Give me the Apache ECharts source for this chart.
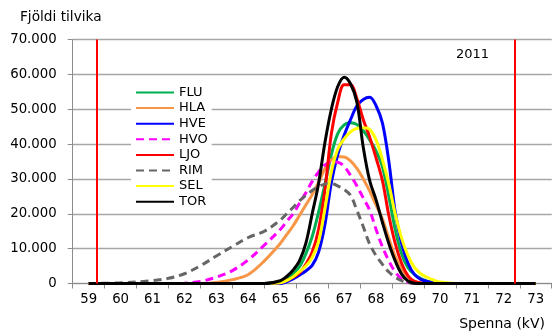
<!DOCTYPE html>
<html>
<head>
<meta charset="utf-8">
<script src="https://cdn.jsdelivr.net/npm/echarts@6/dist/echarts.min.js"></script>
<style>
  html, body { margin: 0; padding: 0; background: #fff; }
  #chart { width: 556px; height: 333px; }
</style>
</head>
<body>
<div id="chart"></div>
<script>
// Voltage (kV) sample points shared by all stations
const voltage = [59, 60, 61, 61.5, 62, 62.5, 63, 63.5, 64, 64.5, 65, 65.2, 65.4, 65.6, 65.8, 66, 66.2, 66.4, 66.6, 66.8, 67, 67.2, 67.4, 67.6, 67.8, 68, 68.2, 68.4, 68.6, 68.8, 69, 69.2, 69.4, 69.6, 69.8, 70, 70.5, 71, 72, 73];

// Number of occurrences per voltage level, one array per station
const FLU = [0, 0, 0, 0, 0, 0, 0, 0, 0, 0, 500, 1500, 2800, 4800, 8500, 13500, 20500, 28500, 37000, 43000, 45500, 46100, 45600, 43800, 41200, 38000, 33500, 25000, 15500, 8500, 4500, 2600, 1400, 700, 200, 0, 0, 0, 0, 0];
const HLA = [0, 0, 0, 0, 0, 0, 300, 1100, 2600, 6500, 11500, 14000, 16500, 19500, 22500, 25500, 29000, 33000, 35500, 36400, 36300, 35200, 33000, 30000, 26500, 22500, 18500, 13000, 7800, 4200, 1800, 600, 200, 0, 0, 0, 0, 0, 0, 0];
const HVE = [0, 0, 0, 0, 0, 0, 0, 0, 0, 0, 0, 500, 1300, 2400, 3600, 5200, 9000, 17000, 29000, 37000, 42500, 47000, 51000, 52800, 53400, 51000, 46000, 35000, 20500, 11500, 5800, 2600, 1200, 600, 200, 0, 0, 0, 0, 0];
const HVO = [0, 0, 0, 0, 100, 600, 1800, 3700, 6800, 11000, 15500, 17800, 20000, 23000, 26000, 29300, 32000, 34000, 34900, 34800, 33600, 31000, 28000, 24500, 21000, 15500, 10500, 6500, 3300, 1300, 400, 0, 0, 0, 0, 0, 0, 0, 0, 0];
const LJO = [0, 0, 0, 0, 0, 0, 0, 0, 0, 0, 300, 900, 1800, 3000, 5500, 9000, 15500, 27000, 43000, 52000, 57000, 57000, 53000, 47000, 42000, 36000, 29500, 19500, 11500, 5800, 2200, 600, 100, 0, 0, 0, 0, 0, 0, 0];
const RIM = [0, 200, 800, 1500, 2800, 5100, 7900, 10600, 13200, 15000, 18200, 20000, 21800, 23700, 25300, 26700, 27800, 28500, 28700, 28000, 27000, 25300, 21000, 16300, 11300, 8000, 5500, 3300, 1800, 800, 300, 0, 0, 0, 0, 0, 0, 0, 0, 0];
const SEL = [0, 0, 0, 0, 0, 0, 0, 0, 0, 0, 200, 800, 1900, 3400, 5000, 7500, 12000, 21500, 32000, 38500, 41500, 43500, 44500, 44700, 44200, 41200, 35500, 28500, 20000, 13000, 8000, 4600, 2800, 1800, 1000, 400, 0, 0, 0, 0];
const TOR = [0, 0, 0, 0, 0, 0, 0, 0, 0, 0, 800, 2000, 3800, 6500, 11500, 20000, 28700, 40500, 50000, 56500, 59200, 57300, 52000, 39000, 29500, 24000, 17500, 11500, 6500, 2700, 700, 100, 0, 0, 0, 0, 0, 0, 0, 0];

// Voltage limits shown as vertical lines
const limits = [59.26, 72.33];

// Axis ticks and labels
const xLabels = [59, 60, 61, 62, 63, 64, 65, 66, 67, 68, 69, 70, 71, 72, 73];
const xTickBounds = [58.5, 59.5, 60.5, 61.5, 62.5, 63.5, 64.5, 65.5, 66.5, 67.5, 68.5, 69.5, 70.5, 71.5, 72.5, 73.5];

const stations = [
  { name: 'FLU', values: FLU, color: '#00b050', dash: 'solid' },
  { name: 'HLA', values: HLA, color: '#f79646', dash: 'solid' },
  { name: 'HVE', values: HVE, color: '#0000ff', dash: 'solid' },
  { name: 'HVO', values: HVO, color: '#ff00ff', dash: [8, 5] },
  { name: 'LJO', values: LJO, color: '#ff0000', dash: 'solid' },
  { name: 'RIM', values: RIM, color: '#666666', dash: [8, 5] },
  { name: 'SEL', values: SEL, color: '#ffff00', dash: 'solid' },
  { name: 'TOR', values: TOR, color: '#000000', dash: 'solid' }
];

const FONT = 'DejaVu Sans, Verdana, sans-serif';
const chart = echarts.init(document.getElementById('chart'), null, { renderer: 'canvas' });

const series = [{
  name: 'limits',
  type: 'line',
  data: [],
  z: 1,
  silent: true,
  markLine: {
    silent: true,
    symbol: ['none', 'none'],
    label: { show: false },
    lineStyle: { color: '#ff0000', width: 2, type: 'solid' },
    data: limits.map(v => ({ xAxis: v }))
  }
}].concat(stations.map(s => ({
  name: s.name,
  type: 'line',
  z: 2,
  smooth: 0.35,
  symbol: 'none',
  showSymbol: false,
  color: s.color,
  lineStyle: { color: s.color, width: 3, type: s.dash },
  data: voltage.map((v, i) => [v, s.values[i]])
})));

chart.setOption({
  animation: false,
  backgroundColor: '#ffffff',
  grid: { left: 72.7, right: 4.3, top: 39.5, bottom: 49.5, containLabel: false },
  xAxis: {
    type: 'value',
    min: 58.5,
    max: 73.5,
    axisLine: { show: true, lineStyle: { color: '#8c8c8c', width: 1 } },
    axisTick: { show: true, inside: false, length: 5, customValues: xTickBounds, lineStyle: { color: '#8c8c8c' } },
    axisLabel: { customValues: xLabels, color: '#000', fontFamily: FONT, fontSize: 13.3, margin: 10 },
    splitLine: { show: false }
  },
  yAxis: {
    type: 'value',
    min: 0,
    max: 70000,
    interval: 10000,
    axisLine: { show: true, lineStyle: { color: '#8c8c8c', width: 1 } },
    axisTick: { show: true, inside: false, length: 5, lineStyle: { color: '#8c8c8c' } },
    axisLabel: {
      color: '#000', fontFamily: FONT, fontSize: 13.3, margin: 16,
      formatter: v => v === 0 ? '0' : (v / 1000) + '.000'
    },
    splitLine: { show: true, lineStyle: { color: '#a6a6a6', width: 1.3 } }
  },
  legend: {
    data: stations.map(s => s.name),
    orient: 'vertical',
    left: 131,
    top: 83,
    padding: [3, 4, 3, 4],
    itemWidth: 38,
    itemHeight: 12,
    itemGap: 2.6,
    backgroundColor: '#ffffff',
    itemStyle: { opacity: 0 },
    textStyle: { color: '#000', fontFamily: FONT, fontSize: 13 }
  },
  graphic: [
    { type: 'text', left: 20, top: 10, style: { text: 'Fjöldi tilvika', fill: '#000', font: '13.7px ' + FONT } },
    { type: 'text', left: 456, top: 48, style: { text: '2011', fill: '#000', font: '13px ' + FONT } },
    { type: 'text', right: 11, top: 317, style: { text: 'Spenna (kV)', fill: '#000', font: '14px ' + FONT } }
  ],
  series: series
});
</script>
</body>
</html>
